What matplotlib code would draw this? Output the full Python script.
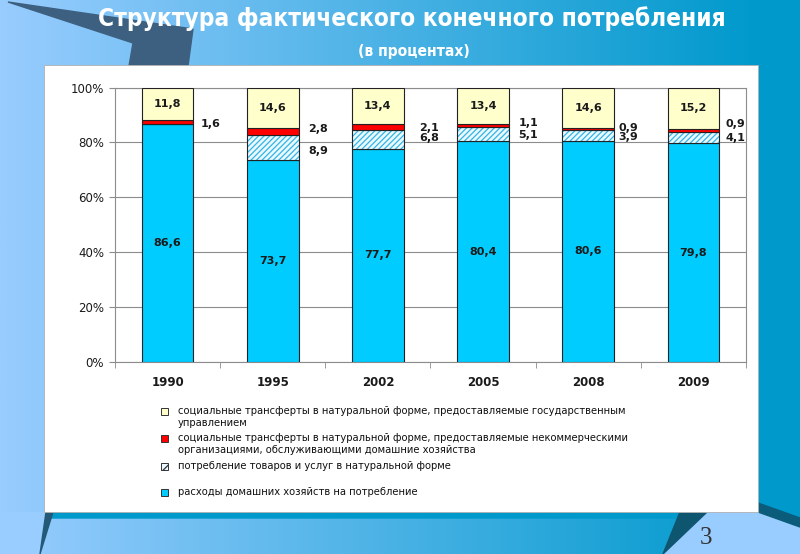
import matplotlib
matplotlib.use("Agg")
import matplotlib.pyplot as plt
import numpy as np
from matplotlib.patches import Polygon, Rectangle

# data (percent of actual final consumption)
years = ["1990", "1995", "2002", "2005", "2008", "2009"]
household = [86.6, 73.7, 77.7, 80.4, 80.6, 79.8]
in_kind = [0.0, 8.9, 6.8, 5.1, 3.9, 4.1]
npish = [1.6, 2.8, 2.1, 1.1, 0.9, 0.9]
government = [11.8, 14.6, 13.4, 13.4, 14.6, 15.2]

legend_labels = [
    "социальные трансферты в натуральной форме, предоставляемые государственным\nуправлением",
    "социальные трансферты в натуральной форме, предоставляемые некоммерческими\nорганизациями, обслуживающими домашние хозяйства",
    "потребление товаров и услуг в натуральной форме",
    "расходы домашних хозяйств на потребление",
]

title = "Структура фактического конечного потребления"
subtitle = "(в процентах)"

# label nudges for the small outside labels (layout only)
side_dx = [0.41, 0.43, 0.49, 0.43, 0.38, 0.40]
red_dy = [-0.7, 0.9, -0.25, 1.05, 0.35, 2.35]
hatch_dy = [0.0, -1.25, 0.5, -0.25, -0.55, -0.25]

W, H = 800, 554
BLUE = "#00CCFF"
RED = "#FF0000"
YELLOW = "#FFFFCC"
HATCH_BG = "#EAF8FF"
HATCH_C = "#33B5E5"
EDGE = "#222222"
GRID = "#8C8C8C"

plt.rcParams["font.family"] = ["DejaVu Sans"]
plt.rcParams["hatch.linewidth"] = 0.9

fig = plt.figure(figsize=(W / 100, H / 100), dpi=100)

# slide background
bg = fig.add_axes([0, 0, 1, 1])
bg.set_xlim(0, W)
bg.set_ylim(H, 0)
bg.axis("off")
fig.patch.set_facecolor("#99CCFF")

c0 = np.array([153, 204, 255]) / 255
c1 = np.array([0, 153, 204]) / 255
t = np.linspace(0, 1, 400)[None, :, None]
grad = c0 + (c1 - c0) * t
im = bg.imshow(grad, extent=[0, 760, H, 0], aspect="auto", zorder=1)
clip = Polygon([(0, 0), (760, 0), (760, 512), (680, 512), (663, H), (40, H),
                (47, 512), (0, 512)], transform=bg.transData)
im.set_clip_path(clip)
bg.add_patch(Polygon([(758, 0), (W, 0), (W, 518), (758, 503)], color="#0099CC", zorder=2))
bg.add_patch(Polygon([(758, 503), (W, 518), (W, 527), (758, 512)], color="#0B5C7A", zorder=2))
bg.add_patch(Polygon([(47, 511), (690, 511), (688, 518), (46, 518)], color="#0099CC", zorder=2))
bg.add_patch(Polygon([(680, 512), (707, 512), (663, H)], color="#0E5570", zorder=2))
bg.add_patch(Polygon([(46, 512), (53, 512), (40, H)], color="#245A78", zorder=2))
bg.add_patch(Polygon([(8, 2), (193, 29), (188, 66), (129, 66), (133, 43)], color="#3D6080", zorder=2))
bg.add_patch(Rectangle((44, 65), 714, 447, facecolor="white", edgecolor="#B0B0B0", lw=0.6, zorder=3))

bg.text(412, 26, title, color="white", fontsize=17.5, fontweight="bold", fontstretch="condensed",
        ha="center", va="baseline", zorder=5)
bg.text(414, 56, subtitle, color="white", fontsize=11.2, fontweight="bold", fontstretch="condensed",
        ha="center", va="baseline", zorder=5)
bg.text(706, 538, "3", color="#333333", fontsize=18, family=["Liberation Serif", "DejaVu Serif"],
        ha="center", va="center", zorder=5)

# chart
ax = fig.add_axes([115 / W, 1 - 362 / H, 631 / W, 274.4 / H])
x = np.arange(len(years))
bw = 0.49
hh = np.array(household)
ik = np.array(in_kind)
np_ = np.array(npish)
gv = np.array(government)

ax.bar(x, hh, bw, color=BLUE, edgecolor=EDGE, lw=0.8, zorder=3)
ax.bar(x, ik, bw, bottom=hh, color=HATCH_BG, hatch="//////", edgecolor=HATCH_C, lw=0, zorder=3)
ax.bar(x, ik, bw, bottom=hh, fill=False, edgecolor=EDGE, lw=0.8, zorder=4)
ax.bar(x, np_, bw, bottom=hh + ik, color=RED, edgecolor=EDGE, lw=0.8, zorder=4)
ax.bar(x, gv, bw, bottom=hh + ik + np_, color=YELLOW, edgecolor=EDGE, lw=0.8, zorder=4)

def fmt(v):
    return f"{v:.1f}".replace(".", ",")

lab = dict(fontsize=8, fontweight="bold", color="#1A1A1A", ha="center", va="center", zorder=6)
for i in range(len(years)):
    ax.text(x[i], hh[i] / 2, fmt(hh[i]), **lab)
    ax.text(x[i], hh[i] + ik[i] + np_[i] + gv[i] / 2, fmt(gv[i]), **lab)
    ax.text(x[i] + side_dx[i], hh[i] + ik[i] + np_[i] / 2 + red_dy[i], fmt(np_[i]), **lab)
    if ik[i] > 0:
        ax.text(x[i] + side_dx[i], hh[i] + ik[i] / 2 + hatch_dy[i], fmt(ik[i]), **lab)

ax.set_xlim(-0.5, len(years) - 0.5)
ax.set_ylim(0, 100)
ax.set_yticks(np.arange(0, 101, 20))
ax.set_yticklabels([f"{v}%" for v in range(0, 101, 20)])
ax.set_xticks(x)
ax.set_xticklabels(years, fontweight="bold")
ax.set_xticks(np.arange(-0.5, len(years), 1), minor=True)
ax.tick_params(axis="x", which="major", length=0, pad=10, labelsize=8.5, labelcolor="#1A1A1A")
ax.tick_params(axis="x", which="minor", length=4, color=GRID, direction="out")
ax.tick_params(axis="y", length=4, color=GRID, direction="out", pad=4, labelsize=8.5,
               labelcolor="#1A1A1A")
ax.yaxis.grid(True, color=GRID, lw=0.8)
ax.set_axisbelow(True)
for s in ax.spines.values():
    s.set_color(GRID)
    s.set_linewidth(0.8)

# legend drawn in slide pixel coordinates
leg_colors = [YELLOW, RED, HATCH_BG, BLUE]
leg_hatch = [None, None, "////", None]
leg_top = [411, 438, 466, 492]
for lbl, col, hat, y0 in zip(legend_labels, leg_colors, leg_hatch, leg_top):
    bg.add_patch(Rectangle((161, y0 - 3), 6.5, 6.5, facecolor=col, edgecolor="#333333", lw=0.7,
                           hatch=hat, zorder=5))
    for k, line in enumerate(lbl.split("\n")):
        bg.text(178, y0 + k * 12, line, fontsize=7.2, color="#111111", ha="left", va="center",
                zorder=5)

fig.savefig("out.png", dpi=100)
